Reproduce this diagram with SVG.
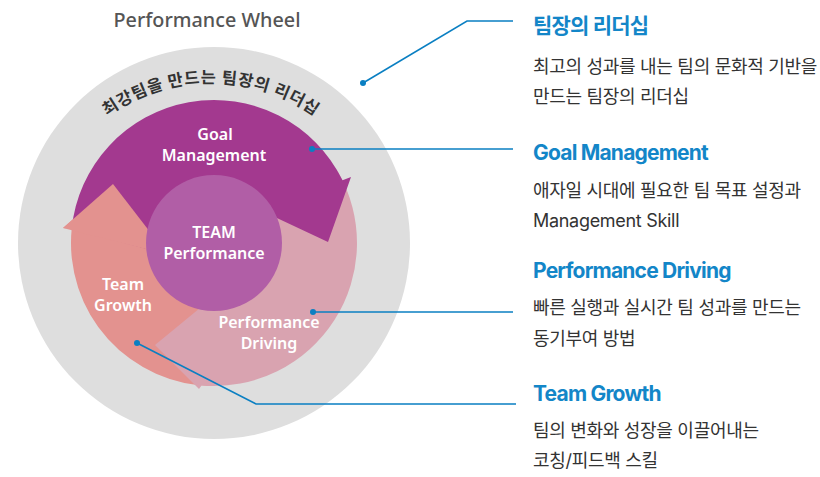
<svg xmlns="http://www.w3.org/2000/svg" width="820" height="477" viewBox="0 0 820 477">
<defs>
<style>
.lbl{font-family:"Noto Sans","Noto Sans CJK KR",sans-serif;font-weight:600;fill:#fff;text-anchor:middle;font-size:16px}
.head{font-family:"Inter","Noto Sans CJK KR",sans-serif;font-weight:700;fill:#1386c8;font-size:21px;letter-spacing:-0.8px}
.body{font-family:"Inter","Noto Sans CJK KR",sans-serif;font-weight:400;fill:#333;font-size:18px;letter-spacing:-0.3px}
.conn{fill:none;stroke:#0a7fc2;stroke-width:1.6}
.dot{fill:#0a7fc2}
</style>
<path id="arcText" d="M 56 172.5 A 179 179 0 0 1 366 172.5"/>
</defs>
<rect width="820" height="477" fill="#fff"/>
<text x="207" y="27" font-family="Noto Sans, sans-serif" font-size="19.8" font-weight="500" fill="#555" text-anchor="middle">Performance Wheel</text>
<g id="wheel">
<circle cx="214" cy="243" r="196" fill="#dedede"/>
<text font-family="Noto Sans CJK KR, sans-serif" font-size="16.5" font-weight="700" fill="#333" letter-spacing="0.8"><textPath href="#arcText" startOffset="50%" text-anchor="middle">최강팀을 만드는 팀장의 리더십</textPath></text>
</g>
<g id="team-growth">
<path d="M 214 386 A 143 143 0 0 1 71.7 228.8 L 63 228 L 113 184 L 167.4 254.4 L 214 288 Z" fill="#e3928f"/>
</g>
<g id="performance-driving">
<path d="M 337.8 171.5 A 143 143 0 0 1 201.5 385.5 L 199 389 L 155 345 L 222.5 289.5 L 253 220.5 Z" fill="#d9a3b0"/>
</g>
<g id="goal-management">
<path d="M 71.7 228.8 A 143 143 0 0 1 342.5 180.3 L 351 177 L 328 242 L 243.8 202.4 L 167.4 254.4 Z" fill="#a3398f"/>
</g>
<g id="team-growth-head">
<path d="M 63 228 L 113 184 L 167.4 254.4 Z" fill="#e3928f"/>
</g>
<g id="team-performance">
<circle cx="214" cy="243" r="68" fill="#b15ea6"/>
<text class="lbl" x="214" y="238">TEAM</text>
<text class="lbl" x="214" y="258.5">Performance</text>
</g>
<g id="labels">
<text class="lbl" x="215" y="140" font-size="16.5">Goal</text>
<text class="lbl" x="214" y="161" font-size="16.5">Management</text>
<text class="lbl" x="123" y="290">Team</text>
<text class="lbl" x="123" y="310.5">Growth</text>
<text class="lbl" x="269" y="328">Performance</text>
<text class="lbl" x="269" y="349">Driving</text>
</g>
<g id="connectors">
<polyline class="conn" points="363,83 467,21 513,21" stroke-width="1.3"/>
<circle class="dot" cx="363" cy="83" r="3"/>
<polyline class="conn" points="312,149 513,149" stroke-width="2"/>
<circle class="dot" cx="312" cy="149" r="3"/>
<polyline class="conn" points="313,312 513,312" stroke-width="2"/>
<circle class="dot" cx="313" cy="312" r="3"/>
<polyline class="conn" points="137,343 256,404 516,404" stroke-width="1.6"/>
<circle class="dot" cx="137" cy="343" r="3"/>
</g>
<g id="desc-leadership">
<text class="head" x="533" y="33">팀장의 리더십</text>
<text class="body" x="533" y="73">최고의 성과를 내는 팀의 문화적 기반을</text>
<text class="body" x="533" y="103">만드는 팀장의 리더십</text>
</g>
<g id="desc-goal">
<text class="head" x="533" y="160">Goal Management</text>
<text class="body" x="533" y="197">애자일 시대에 필요한 팀 목표 설정과</text>
<text class="body" x="533" y="227">Management Skill</text>
</g>
<g id="desc-driving">
<text class="head" x="533" y="278">Performance Driving</text>
<text class="body" x="533" y="314">빠른 실행과 실시간 팀 성과를 만드는</text>
<text class="body" x="533" y="345">동기부여 방법</text>
</g>
<g id="desc-growth">
<text class="head" x="533" y="401">Team Growth</text>
<text class="body" x="533" y="437">팀의 변화와 성장을 이끌어내는</text>
<text class="body" x="533" y="467">코칭/피드백 스킬</text>
</g>
</svg>
